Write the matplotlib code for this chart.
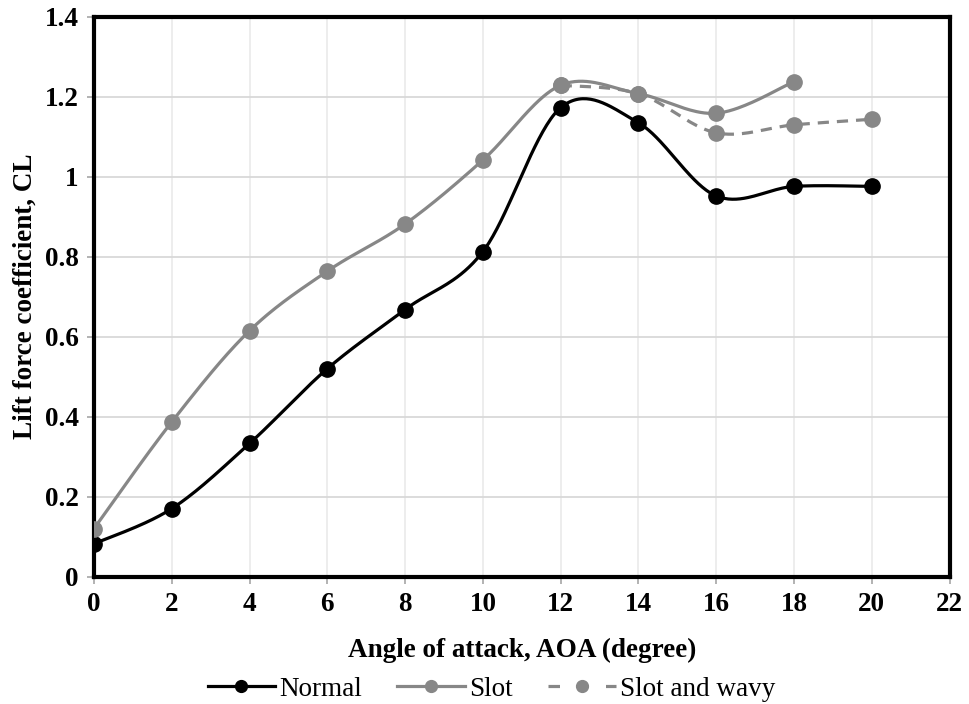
import numpy as np
import matplotlib
matplotlib.use("Agg")
import matplotlib.pyplot as plt
from matplotlib.lines import Line2D

# data
aoa = [0, 2, 4, 6, 8, 10, 12, 14, 16, 18, 20]
cl_normal = [0.082, 0.170, 0.333, 0.520, 0.668, 0.813, 1.173, 1.135, 0.952, 0.976, 0.976]
aoa_slot = [0, 2, 4, 6, 8, 10, 12, 14, 16, 18]
cl_slot = [0.120, 0.387, 0.615, 0.764, 0.882, 1.042, 1.229, 1.208, 1.159, 1.238]
aoa_wavy = [12, 14, 16, 18, 20]
cl_wavy = [1.229, 1.208, 1.110, 1.130, 1.144]

x_ticks = list(range(0, 23, 2))
y_ticks = [0, 0.2, 0.4, 0.6, 0.8, 1, 1.2, 1.4]
y_tick_labels = ["0", "0.2", "0.4", "0.6", "0.8", "1", "1.2", "1.4"]

GREY = "#878787"


def smooth(x, y, n=40):
    # excel style smoothed line (bezier through the points)
    p = np.column_stack([x, y]).astype(float)
    pts = np.vstack([p[0], p, p[-1]])
    t = np.linspace(0, 1, n)[:, None]
    out = []
    for i in range(1, len(pts) - 2):
        p0, p1 = pts[i], pts[i + 1]
        c1 = p0 + (pts[i + 1] - pts[i - 1]) / 6
        c2 = p1 - (pts[i + 2] - pts[i]) / 6
        seg = ((1 - t) ** 3) * p0 + 3 * ((1 - t) ** 2) * t * c1 \
            + 3 * (1 - t) * t ** 2 * c2 + t ** 3 * p1
        out.append(seg)
    out = np.vstack(out)
    return out[:, 0], out[:, 1]


plt.rcParams['font.family'] = ['Liberation Serif', 'DejaVu Serif']
FS = 19.5

fig = plt.figure(figsize=(9.69, 7.04), dpi=100)
ax = fig.add_axes([0.097, 0.181, 0.883, 0.795])

lw = 2.3
ms = 11

sx, sy = smooth(aoa, cl_normal)
ax.plot(sx, sy, color="black", lw=lw, zorder=3)
ax.plot(aoa, cl_normal, "o", color="black", ms=ms, zorder=4)

sx, sy = smooth(aoa_slot, cl_slot)
ax.plot(sx, sy, color=GREY, lw=lw, zorder=3)
ax.plot(aoa_slot, cl_slot, "o", color=GREY, ms=ms, zorder=4)

sx, sy = smooth(aoa_wavy, cl_wavy)
ax.plot(sx, sy, color=GREY, lw=lw, ls=(0, (3.5, 2.5)), zorder=3)
ax.plot(aoa_wavy, cl_wavy, "o", color=GREY, ms=ms, zorder=4)

ax.set_xlim(0, 22)
ax.set_ylim(0, 1.4)
ax.set_xticks(x_ticks)
ax.set_yticks(y_ticks)
ax.set_yticklabels(y_tick_labels)

ax.grid(axis="y", color="#d9d9d9", lw=1.3)
ax.grid(axis="x", color="#ececec", lw=1.3)
ax.set_axisbelow(True)

for s in ax.spines.values():
    s.set_color("black")
    s.set_linewidth(3)

ax.tick_params(axis="both", direction="out", length=5, width=1.2, color="#a6a6a6",
               labelsize=FS, pad=6)
for lab in ax.get_xticklabels() + ax.get_yticklabels():
    lab.set_fontweight("bold")

ax.set_xlabel("Angle of attack, AOA (degree)", fontsize=FS, fontweight="bold", labelpad=15)
ax.set_ylabel("Lift force coefficient, CL", fontsize=FS, fontweight="bold", labelpad=5)

handles = [
    Line2D([], [], color="black", lw=lw, marker="o", ms=8.5),
    Line2D([], [], color=GREY, lw=lw, marker="o", ms=8.5),
    Line2D([], [], color=GREY, lw=lw, ls=(0, (3.6, 5.4)), marker="o", ms=8.5),
]
fig.legend(handles, ["Normal", "Slot", "Slot and wavy"], loc="center",
           bbox_to_anchor=(0.507, 0.021), ncol=3, frameon=False, fontsize=FS,
           handlelength=2.5, handletextpad=0.15, columnspacing=1.3)

fig.savefig("out.png", dpi=100)
